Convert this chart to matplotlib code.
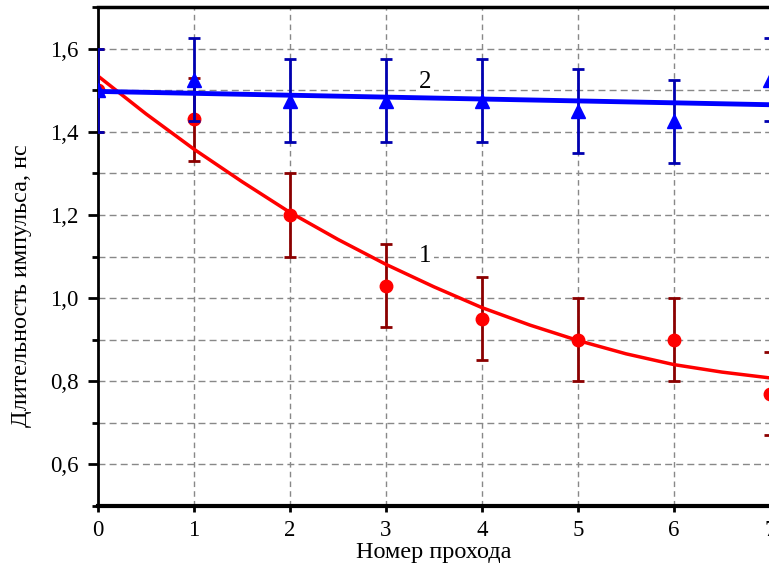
import matplotlib
matplotlib.use("Agg")
import matplotlib.pyplot as plt
from matplotlib.ticker import MultipleLocator, FuncFormatter

plt.rcParams['font.family'] = ['Liberation Serif', 'DejaVu Serif']

# номер прохода
passes = [0, 1, 2, 3, 4, 5, 6, 7]

# кривая 1 (красная): длительность и погрешность
dur1 = [1.50, 1.43, 1.20, 1.03, 0.95, 0.90, 0.90, 0.77]
err1 = [0.10, 0.10, 0.10, 0.10, 0.10, 0.10, 0.10, 0.10]

# кривая 2 (синяя)
dur2 = [1.50, 1.525, 1.475, 1.475, 1.475, 1.45, 1.425, 1.525]
err2 = [0.10, 0.10, 0.10, 0.10, 0.10, 0.10, 0.10, 0.10]

# аппроксимация 1
fit1_x = [0, 0.5, 1, 1.5, 2, 2.5, 3, 3.5, 4, 4.5, 5, 5.5, 6, 6.5, 7]
fit1_y = [1.534, 1.443, 1.358, 1.280, 1.206, 1.141, 1.081, 1.027,
          0.977, 0.935, 0.898, 0.866, 0.840, 0.822, 0.808]

# аппроксимация 2
fit2_x = [0, 7]
fit2_y = [1.497, 1.465]

fig = plt.figure(figsize=(7.69, 5.70), dpi=100)
ax = fig.add_axes([98/769, 64/570, 672/769, 499/570])

ax.errorbar(passes, dur1, yerr=err1, fmt='o', color='#ff0000', ms=9,
            ecolor='#8b0000', elinewidth=2, capsize=4, capthick=2, zorder=3)
ax.plot(fit1_x, fit1_y, color='#ff0000', lw=2.5, zorder=4)
ax.errorbar(passes, dur2, yerr=err2, fmt='^', color='#0000ff', ms=10,
            ecolor='#0000b0', elinewidth=2, capsize=4, capthick=2, zorder=5)
ax.plot(fit2_x, fit2_y, color='#0000ff', lw=3.5, zorder=6)

ax.text(3.41, 1.10, '1', fontsize=18, ha='center', va='center', zorder=2,
        bbox=dict(facecolor='white', edgecolor='none', pad=2))
ax.text(3.41, 1.52, '2', fontsize=18, ha='center', va='center', zorder=2,
        bbox=dict(facecolor='white', edgecolor='none', pad=2))

ax.set_xlim(0, 7)
ax.set_ylim(0.5, 1.7)
ax.xaxis.set_major_locator(MultipleLocator(1))
ax.yaxis.set_major_locator(MultipleLocator(0.2))
ax.yaxis.set_minor_locator(MultipleLocator(0.1))
ax.yaxis.set_major_formatter(FuncFormatter(lambda v, p: f"{v:.1f}".replace('.', ',')))

ax.grid(True, which='major', axis='x', color='#888888', ls=(0, (4, 3)), lw=1)
ax.grid(True, which='both', axis='y', color='#888888', ls=(0, (5, 3)), lw=1)
ax.set_axisbelow(True)

ax.tick_params(axis='both', which='major', direction='out', length=7, width=2, labelsize=16.5)
ax.tick_params(axis='y', which='major', pad=7)
ax.tick_params(axis='y', which='minor', direction='out', length=4, width=2)
ax.tick_params(axis='x', which='major', length=4, pad=6)

ax.spines['top'].set_linewidth(2.5)
ax.spines['left'].set_linewidth(2)
ax.spines['bottom'].set_linewidth(3)
ax.spines['right'].set_visible(False)

ax.set_xlabel('Номер прохода', fontsize=17.5, labelpad=1)
ax.set_ylabel('Длительность импульса, нс', fontsize=17.5)
ax.yaxis.set_label_coords(-0.098, 0.441)

fig.savefig('out.png', dpi=100)
